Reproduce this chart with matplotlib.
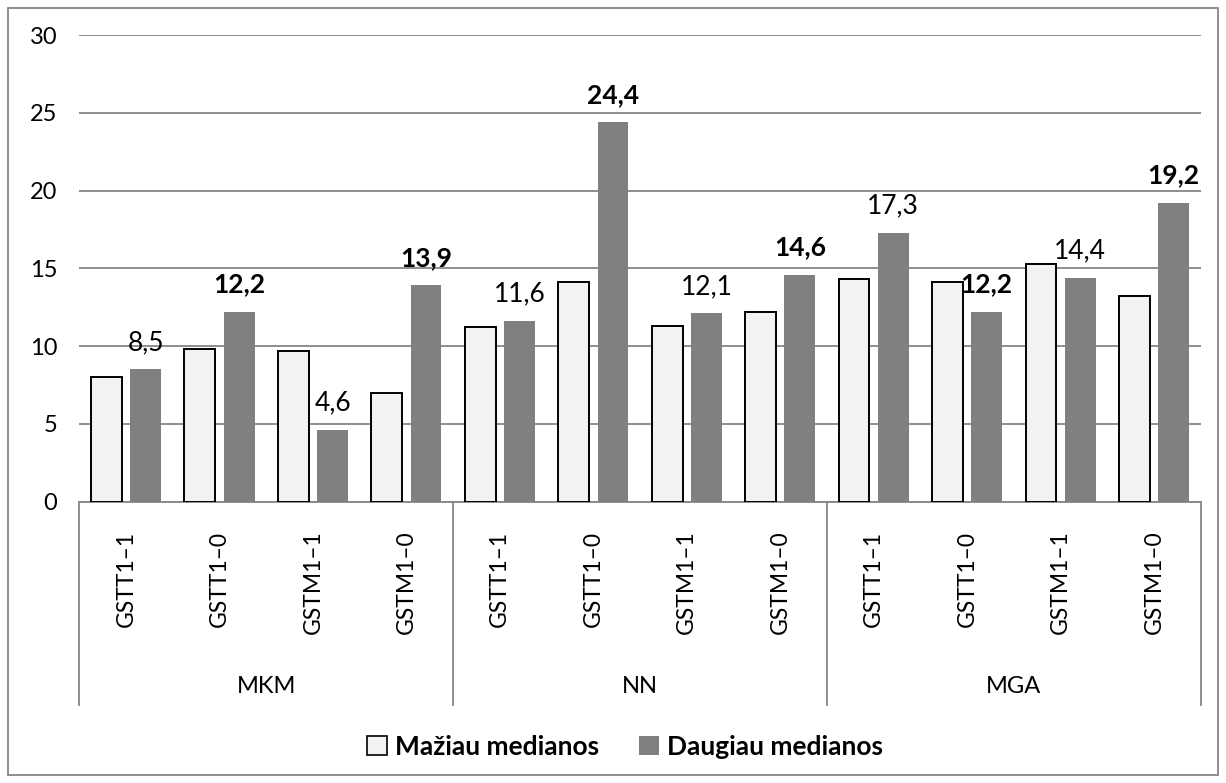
import matplotlib
matplotlib.use("Agg")
import matplotlib.pyplot as plt
import matplotlib.transforms as mtransforms
import numpy as np
from matplotlib.patches import Patch, Rectangle

plt.rcParams["font.family"] = ["Lato", "DejaVu Sans"]

# group -> genotype layout along the category axis
GROUPS = ["MKM", "NN", "MGA"]
GENOTYPES = ["GSTT1–1", "GSTT1–0", "GSTM1–1", "GSTM1–0"]
SERIES_NAMES = ["Mažiau medianos", "Daugiau medianos"]

below_median = [8.0, 9.8, 9.7, 7.0, 11.2, 14.1, 11.3, 12.2, 14.3, 14.1, 15.3, 13.2]
above_median = [8.5, 12.2, 4.6, 13.9, 11.6, 24.4, 12.1, 14.6, 17.3, 12.2, 14.4, 19.2]

Y_MAX = 30
Y_STEP = 5

LIGHT = "#f2f2f2"
DARK = "#808080"
GRID = "#868686"

BAR_W = 0.33
OFFSET = 0.21


def fmt(value):
    return f"{value:.1f}".replace(".", ",")


def main():
    fig = plt.figure(figsize=(12.26, 7.83), dpi=100)
    ax = fig.add_axes([0.0647, 0.3593, 0.9147, 0.596])

    n_groups = len(GROUPS)
    n_gen = len(GENOTYPES)
    x = np.arange(n_groups * n_gen)

    ax.bar(x - OFFSET, below_median, width=BAR_W, color=LIGHT,
           edgecolor="black", linewidth=1.4, zorder=3)
    ax.bar(x + OFFSET, above_median, width=BAR_W, color=DARK,
           linewidth=0, zorder=3)

    # value labels over the upper-median bars, bold for the null genotypes
    for i, value in enumerate(above_median):
        bold = GENOTYPES[i % n_gen].endswith("0")
        ax.annotate(fmt(value), (x[i] + OFFSET, value), xytext=(0, 14),
                    textcoords="offset points", ha="center", va="baseline",
                    fontsize=19, fontweight="bold" if bold else "normal",
                    color="black", zorder=4)

    ax.set_xlim(-0.5, len(x) - 0.5)
    ax.set_ylim(0, Y_MAX)
    ax.set_yticks(np.arange(0, Y_MAX + 1, Y_STEP))
    ax.yaxis.grid(True, color=GRID, linewidth=1.3, zorder=0)
    ax.set_axisbelow(True)
    ax.tick_params(axis="y", length=0, pad=16, labelsize=17)
    ax.set_xticks([])
    for side in ("top", "right", "left"):
        ax.spines[side].set_visible(False)
    ax.spines["bottom"].set_color(GRID)
    ax.spines["bottom"].set_linewidth(1.3)

    # multi-level category axis drawn below the plot area
    trans = mtransforms.blended_transform_factory(ax.transData, ax.transAxes)
    axis_px = 466.7
    sep_bottom = -(705 - 501.7) / axis_px
    for g in range(n_groups + 1):
        xs = g * n_gen - 0.5
        ax.plot([xs, xs], [0, sep_bottom], color=GRID, linewidth=1.3,
                transform=trans, clip_on=False)
    for i in x:
        ax.text(i, -29 / axis_px, GENOTYPES[i % n_gen], rotation=90,
                ha="center", va="top", fontsize=16.5, transform=trans)
    for g, name in enumerate(GROUPS):
        ax.text(g * n_gen + (n_gen - 1) / 2, -(687 - 501.7) / axis_px, name,
                ha="center", va="center", fontsize=17, transform=trans)

    handles = [
        Patch(facecolor=LIGHT, edgecolor="black", linewidth=1.2),
        Patch(facecolor=DARK, edgecolor="none"),
    ]
    fig.legend(handles, SERIES_NAMES, loc="center", ncol=2,
               bbox_to_anchor=(625 / 1226, 1 - 747 / 783), frameon=False,
               handlelength=0.75, handleheight=0.75, handletextpad=0.3,
               columnspacing=1.5, prop={"weight": "bold", "size": 19})

    fig.patches.append(Rectangle((8 / 1226, 8 / 783), 1210 / 1226, 767 / 783,
                                 transform=fig.transFigure, fill=False,
                                 edgecolor=GRID, linewidth=1.3))

    fig.savefig("out.png", dpi=100)
    plt.close(fig)


if __name__ == "__main__":
    main()
